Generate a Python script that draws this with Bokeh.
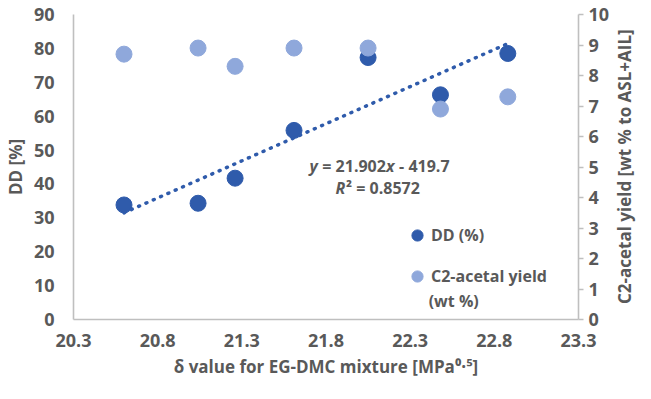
from bokeh.plotting import figure
from bokeh.layouts import row
from bokeh.models import (Range1d, LinearAxis, FixedTicker, PrintfTickFormatter,
                          Legend, LegendItem, Label, ColumnDataSource, Div)
from bokeh.embed import file_html
from bokeh.resources import INLINE

# ---- data ----
delta = [20.6, 21.04, 21.26, 21.61, 22.05, 22.48, 22.88]
dd_pct = [33.8, 34.3, 41.7, 55.8, 77.3, 66.3, 78.5]
c2_yield = [8.7, 8.9, 8.3, 8.9, 8.9, 6.9, 7.3]
x_ticks = [20.3, 20.8, 21.3, 21.8, 22.3, 22.8, 23.3]
left_ticks = [0, 10, 20, 30, 40, 50, 60, 70, 80, 90]
right_ticks = [0, 1, 2, 3, 4, 5, 6, 7, 8, 9, 10]
trend_slope = 21.902
trend_intercept = -419.7
r_squared = "0.8572"
x_title = "δ value for EG-DMC mixture [MPa⁰·⁵]"
y_title = "DD [%]"
y2_title = "C2-acetal yield [wt % to ASL+AIL]"

DARK = "#2F5BAB"
LIGHT = "#8FA8DB"
GREY = "#595959"
AXIS = "#BFBFBF"
FONT = "Open Sans"

p = figure(width=612, height=383, output_backend="svg", toolbar_location=None,
           x_range=Range1d(20.3, 23.3), y_range=Range1d(0, 90),
           min_border_left=71, min_border_right=32, min_border_top=14,
           min_border_bottom=64)
p.extra_y_ranges = {"yield": Range1d(0, 10)}
p.outline_line_color = None
p.xgrid.visible = False
p.ygrid.visible = False
p.background_fill_color = "white"

def style_axis(ax):
    ax.axis_line_color = AXIS
    ax.axis_line_width = 1.6
    ax.major_tick_line_color = AXIS
    ax.major_tick_line_width = 1.6
    ax.minor_tick_line_color = None
    ax.major_label_text_font = FONT
    ax.major_label_text_font_style = "bold"
    ax.major_label_text_font_size = "18px"
    ax.major_label_text_color = GREY
    ax.axis_label_text_font = FONT
    ax.axis_label_text_font_style = "bold"
    ax.axis_label_text_font_size = "17px"
    ax.axis_label_text_color = GREY

xa = p.xaxis[0]
style_axis(xa)
xa.ticker = FixedTicker(ticks=x_ticks)
xa.formatter = PrintfTickFormatter(format="%.1f")
xa.major_tick_in = 0
xa.major_tick_out = 0
xa.major_label_standoff = 14
xa.axis_label = x_title
xa.axis_label_standoff = 5

ya = p.yaxis[0]
style_axis(ya)
ya.ticker = FixedTicker(ticks=left_ticks)
ya.major_tick_in = 0
ya.major_tick_out = 0
ya.major_label_standoff = 19
ya.axis_label = y_title
ya.axis_label_standoff = 4

ra = LinearAxis(y_range_name="yield", ticker=FixedTicker(ticks=right_ticks))
style_axis(ra)
ra.major_tick_in = 0
ra.major_tick_out = 5
ra.major_label_standoff = 5
p.add_layout(ra, "right")

src = ColumnDataSource(dict(x=delta, dd=dd_pct, c2=c2_yield))
r_dd = p.scatter("x", "dd", source=src, size=16, color=DARK)
r_c2 = p.scatter("x", "c2", source=src, size=16, color=LIGHT, y_range_name="yield")

tx = [min(delta), max(delta)]
ty = [trend_slope * v + trend_intercept for v in tx]
p.line(tx, ty, color=DARK, line_width=3.5, line_dash="1 7", line_cap="round")

def lbl(text, x, y, off=0, italic=False, size="16px"):
    p.add_layout(Label(x=x, y=y, x_offset=off, text=text, text_font=FONT,
                       text_font_size=size,
                       text_font_style="bold italic" if italic else "bold",
                       text_color=GREY, text_baseline="middle", text_align="left"))

# trendline equation
eq_x, eq_y = 21.7025, 45.4
r2_y = 38.9
lbl("y", eq_x, eq_y, 0, True)
lbl("= %s" % trend_slope, eq_x, eq_y, 12.7)
lbl("x", eq_x, eq_y, 76.3, True)
lbl("- %s" % abs(trend_intercept), eq_x, eq_y, 89.5)
lbl("R", eq_x, r2_y, 26, True)
lbl("² = %s" % r_squared, eq_x, r2_y, 36.5)

legend = Legend(items=[LegendItem(label="DD (%)", renderers=[r_dd]),
                       LegendItem(label="C2-acetal yield", renderers=[r_c2])],
                location=(330, 29), glyph_width=28, glyph_height=28,
                spacing=13, padding=0, margin=0, label_standoff=0,
                border_line_color=None, background_fill_alpha=0,
                label_text_font=FONT, label_text_font_style="bold",
                label_text_font_size="16px", label_text_color=GREY)
p.add_layout(legend, "center")
lbl("(wt %)", 22.41, 5.6)

# secondary-axis title, reading bottom to top, beside the right axis
inner = ("<div style=\"height:305px;width:20px;margin-top:14px;margin-left:3px;"
         "writing-mode:vertical-rl;transform:rotate(180deg);text-align:center;"
         "white-space:nowrap;font-family:'Open Sans';font-weight:bold;"
         "font-size:17px;line-height:20px;color:%s;\">%s</div>" % (GREY, y2_title))
div = Div(text=inner, width=23, height=383, margin=(0, 0, 0, 0))

layout = row(p, div, spacing=0)
open("out.html", "w").write(file_html(layout, INLINE))
